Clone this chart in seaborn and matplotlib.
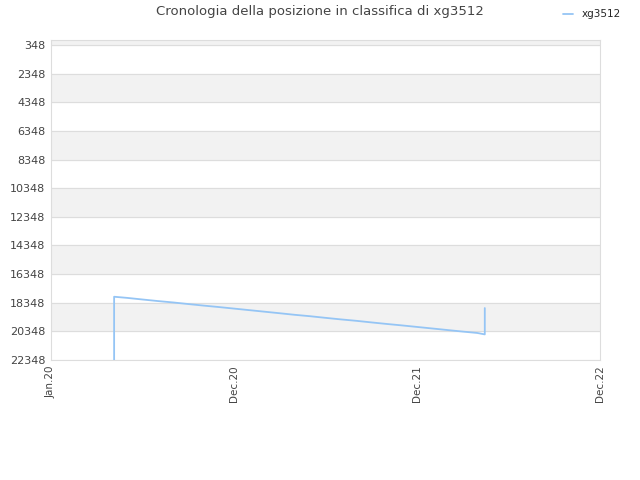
import pandas as pd
import seaborn as sns
import matplotlib.pyplot as plt
from matplotlib.lines import Line2D

# rank history of xg3512
dates = ["2020-05-06", "2020-05-06", "2020-06-01", "2020-07-01", "2020-08-01",
         "2020-09-01", "2020-10-01", "2020-11-01", "2020-12-01", "2021-01-01",
         "2021-02-01", "2021-03-01", "2021-04-01", "2021-05-01", "2021-06-01",
         "2021-07-01", "2021-08-01", "2021-09-01", "2021-10-01", "2021-11-01",
         "2021-12-01", "2022-01-01", "2022-02-01", "2022-03-01", "2022-04-01",
         "2022-05-01", "2022-05-16", "2022-05-16"]
ranks = [22348, 17930, 18010, 18120, 18230, 18330, 18440, 18550, 18650, 18760,
         18870, 18970, 19080, 19190, 19290, 19400, 19510, 19610, 19720, 19830,
         19930, 20040, 20150, 20250, 20360, 20460, 20560, 18720]

y_ticks = [348, 2348, 4348, 6348, 8348, 10348, 12348, 14348, 16348, 18348, 20348, 22348]
x_ticks = ["2020-01-01", "2021-01-01", "2022-01-01", "2023-01-01"]
x_labels = ["Jan.20", "Dec.20", "Dec.21", "Dec.22"]

df = pd.DataFrame({"date": pd.to_datetime(dates), "rank": ranks})

sns.set_style("white")
plt.rcParams['font.family'] = ['DejaVu Sans']

fig = plt.figure(figsize=(6.4, 4.8), dpi=100)
ax = fig.add_axes([51 / 640, 1 - 360 / 480, 549 / 640, 320 / 480])

# alternating bands
ax.axhspan(0, y_ticks[0], color="#f2f2f2", zorder=0)
for i in range(1, len(y_ticks) - 1, 2):
    ax.axhspan(y_ticks[i], y_ticks[i + 1], color="#f2f2f2", zorder=0)
for t in y_ticks:
    ax.axhline(t, color="#dddddd", lw=0.8, zorder=1)

sns.lineplot(data=df, x="date", y="rank", estimator=None, sort=False,
             color="#95c5f5", lw=1.3, ax=ax, zorder=3)

ax.set_ylim(22348, 0)
ax.set_xlim(pd.Timestamp("2020-01-01"), pd.Timestamp("2023-01-01"))
ax.set_yticks(y_ticks)
ax.set_yticklabels([str(t) for t in y_ticks], fontsize=8, color="#444444")
ax.set_xticks(pd.to_datetime(x_ticks))
ax.set_xticklabels(x_labels, rotation=90, fontsize=7.5, color="#444444")
ax.tick_params(length=0, pad=4)
ax.set_xlabel("")
ax.set_ylabel("")
for s in ax.spines.values():
    s.set_color("#dddddd")
    s.set_linewidth(0.8)

fig.suptitle("Cronologia della posizione in classifica di xg3512",
             y=1 - 5 / 480, va="top", fontsize=9.5, color="#444444")
handle = Line2D([], [], color="#95c5f5", lw=1.3)
fig.legend([handle], ["xg3512"], loc="upper right", bbox_to_anchor=(0.985, 1.0),
           frameon=False, fontsize=7.5, handlelength=1.0)

fig.savefig("out.png", dpi=100)
